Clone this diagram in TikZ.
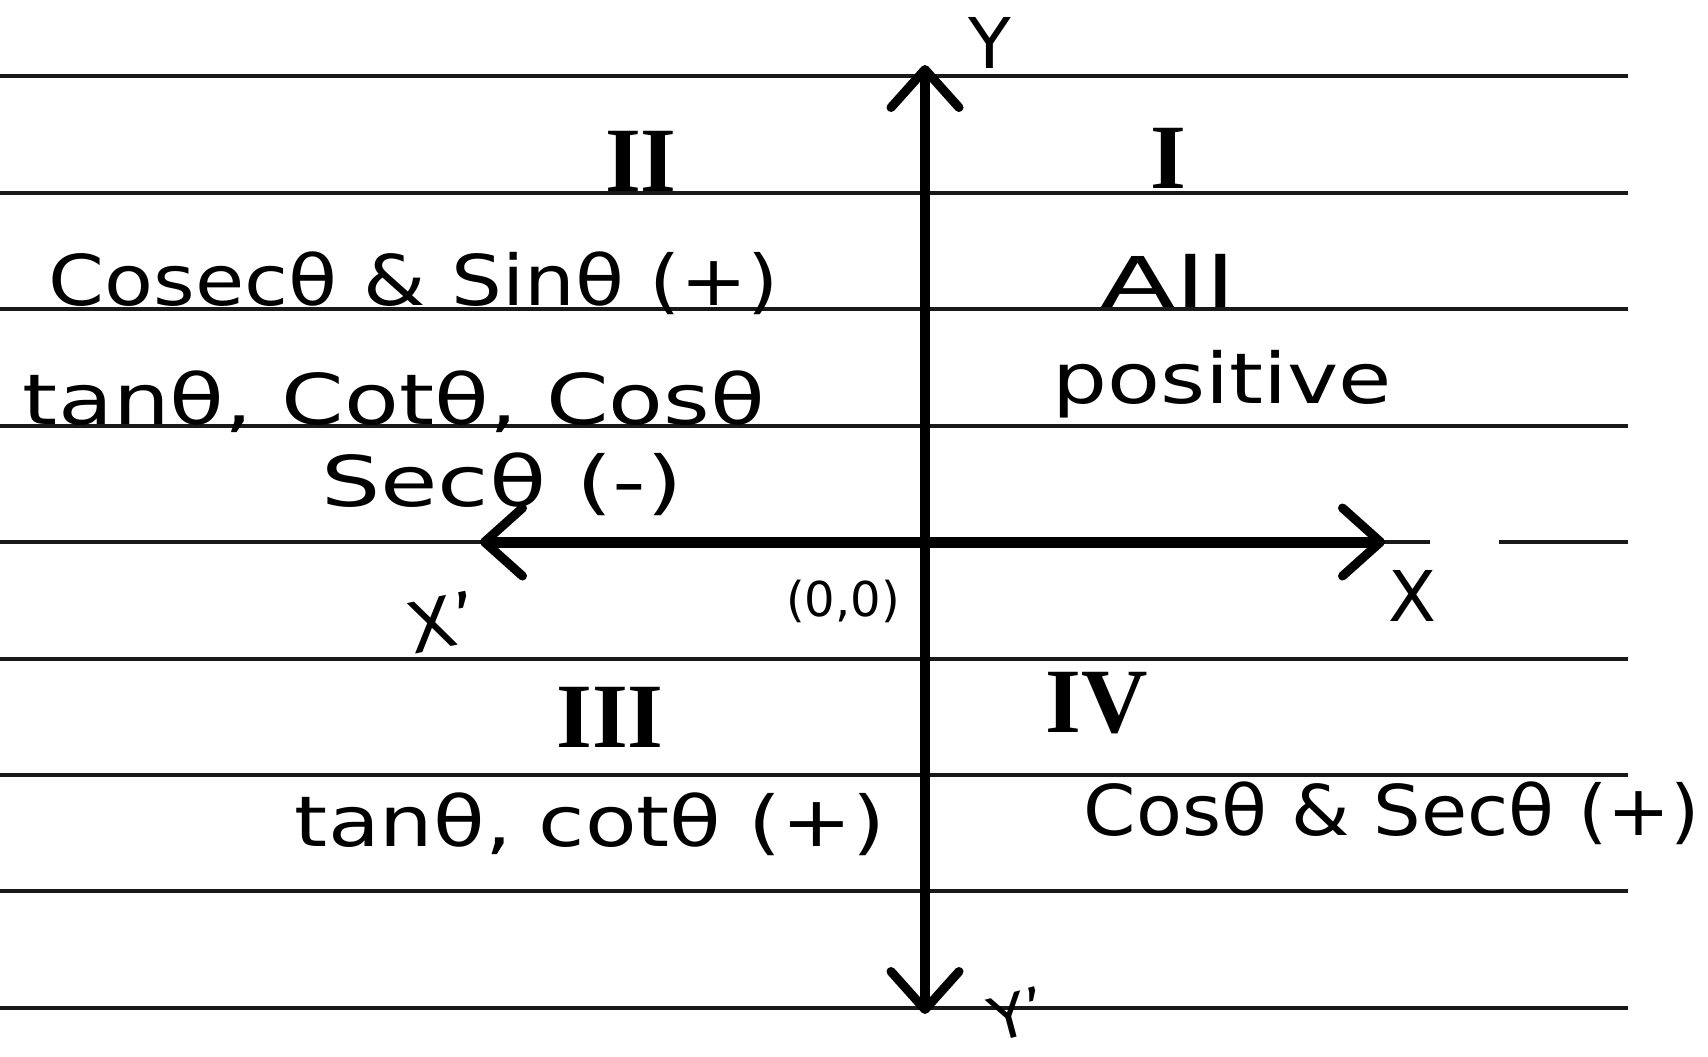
\documentclass[tikz,border=0pt]{standalone}
\usepackage{fontspec}
\setmainfont{DejaVu Sans}
\newfontfamily\numfont{Liberation Serif}
\usetikzlibrary{arrows.meta}
\newcommand{\hw}[2]{\resizebox{#1}{\height}{#2}}
\begin{document}
\begin{tikzpicture}[x=0.5pt,y=-0.5pt,
  ruled/.style={line width=2.3pt, black!90},
  barb/.tip={Straight Barb[length=19pt,width=34pt,line width=4.5pt,round]},
  axisline/.style={line width=4.8pt, black, barb-barb},
  hand/.style={font=\fontsize{35}{42}\selectfont, inner sep=0pt},
  small/.style={font=\fontsize{24}{28}\selectfont, inner sep=0pt},
  numeral/.style={font=\numfont\bfseries\fontsize{46}{50}\selectfont, inner sep=0pt},
]
\useasboundingbox[fill=white] (0,0) rectangle (1708,1056);

% ruled paper lines
\foreach \yy in {76,193,309,426,659,775,891,1008}
  \draw[ruled] (0,\yy) -- (1628,\yy);
\draw[ruled] (0,542) -- (1430,542);
\draw[ruled] (1499,542) -- (1628,542);

% axes
\coordinate (ytop) at (925,65);
\coordinate (ybot) at (925,1014);
\coordinate (xl) at (480,542);
\coordinate (xr) at (1385,542);
\draw[axisline] (ybot) -- (ytop);
\draw[axisline, line width=5.5pt] (xl) -- (xr);

% axis labels
\node[hand] (ylab) at (990,43) {Y};
\node[hand, rotate=15, font=\fontsize{30}{36}\selectfont] (yplab) at (1018,1014) {Y'};
\node[hand] (xlab) at (1412,596) {X};
\node[hand, rotate=12] (xplab) at (443,622) {X'};
\node[small] (origin) at (843,601) {(0,0)};

% quadrant numerals
\node[numeral] (q1) at (1168,158) {I};
\node[numeral] (q2) at (641,161) {II};
\node[numeral] (q3) at (610,717) {III};
\node[numeral] (q4) at (1097,703) {IV};

% quadrant II text
\node[hand, anchor=base] (q2a) at (414,305) {\hw{365pt}{Cosecθ \& Sinθ (+)}};
\node[hand, anchor=base] (q2b) at (394,424) {\hw{371pt}{tanθ, Cotθ, Cosθ}};
\node[hand, anchor=base] (q2c) at (502,506) {\hw{181pt}{Secθ (-)}};

% quadrant I text
\node[hand, anchor=base] (q1a) at (1168,307) {\hw{68pt}{All}};
\node[hand, anchor=base] (q1b) at (1222,403) {\hw{170pt}{positive}};

% quadrant III text
\node[hand, anchor=base] (q3a) at (590,846) {\hw{295pt}{tanθ, cotθ (+)}};

% quadrant IV text
\node[hand, anchor=base] (q4a) at (1392,835) {\hw{308pt}{Cosθ \& Secθ (+)}};
\end{tikzpicture}
\end{document}
